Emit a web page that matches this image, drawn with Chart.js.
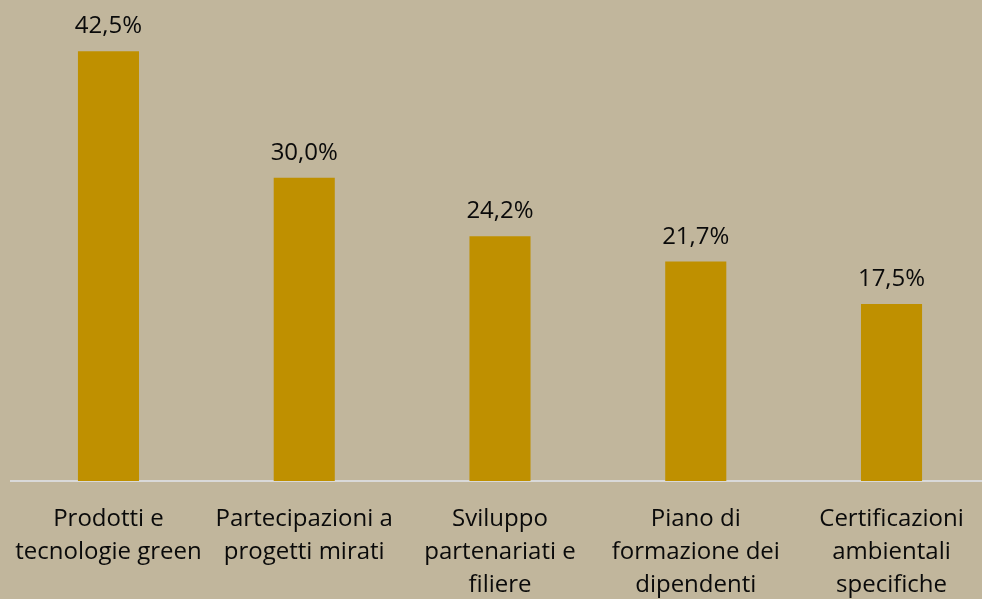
<!DOCTYPE html>
<html>
<head>
<meta charset="utf-8">
<script src="https://cdn.jsdelivr.net/npm/chart.js@4.4.1/dist/chart.umd.min.js"></script>
<style>
  html, body { margin: 0; padding: 0; background: #C1B69C; overflow: hidden; width: 982px; height: 599px; }
  #wrap { width: 990px; height: 599px; }
</style>
</head>
<body>
<div id="wrap"><canvas id="c" width="990" height="599"></canvas></div>
<script>
const categories = [
  ["Prodotti e", "tecnologie green"],
  ["Partecipazioni a", "progetti mirati"],
  ["Sviluppo", "partenariati e", "filiere"],
  ["Piano di", "formazione dei", "dipendenti"],
  ["Certificazioni", "ambientali", "specifiche"]
];
const values = [42.5, 30.0, 24.2, 21.7, 17.5];
const yMin = 0;
const yMax = 45;

const FONT = "'Open Sans', sans-serif";

const valueLabels = {
  id: 'valueLabels',
  afterDatasetsDraw(chart) {
    const ctx = chart.ctx;
    const meta = chart.getDatasetMeta(0);
    ctx.save();
    ctx.font = "24px " + FONT;
    ctx.fillStyle = '#0a0a0a';
    ctx.textAlign = 'center';
    ctx.textBaseline = 'alphabetic';
    meta.data.forEach((bar, i) => {
      const v = chart.data.datasets[0].data[i];
      const txt = v.toFixed(1).replace('.', ',') + '%';
      ctx.fillText(txt, bar.x, bar.y - 18);
    });
    ctx.restore();
  }
};

new Chart(document.getElementById('c'), {
  type: 'bar',
  data: {
    labels: categories,
    datasets: [{
      data: values,
      backgroundColor: '#BF9000',
      borderWidth: 0,
      barPercentage: 0.312,
      categoryPercentage: 1.0
    }]
  },
  options: {
    responsive: false,
    animation: false,
    layout: { padding: { left: 10.6, right: 0.6, top: 26, bottom: 0 } },
    plugins: { legend: { display: false }, tooltip: { enabled: false } },
    scales: {
      x: {
        grid: { display: false, drawTicks: false },
        border: { display: true, color: '#D9D9D9', width: 2 },
        ticks: {
          color: '#0a0a0a',
          font: { family: FONT, size: 24, lineHeight: '33px' },
          padding: 22,
          maxRotation: 0,
          autoSkip: false
        },
        afterFit(scale) {
          scale.paddingLeft = 0;
          scale.paddingRight = 0;
          scale.height = 118;
        }
      },
      y: {
        display: false,
        min: yMin,
        max: yMax
      }
    }
  },
  plugins: [valueLabels]
});
</script>
</body>
</html>
